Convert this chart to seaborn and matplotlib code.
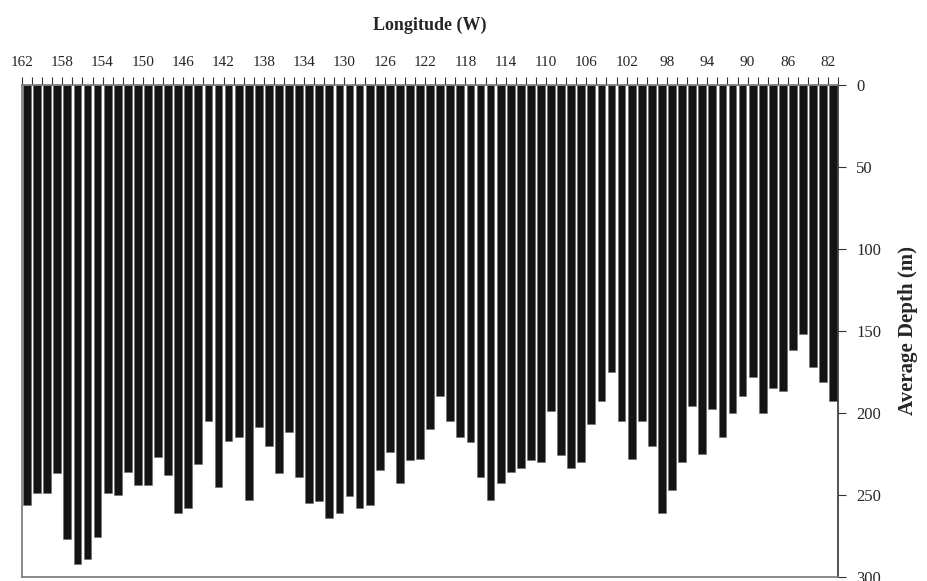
import pandas as pd
import matplotlib
matplotlib.use('Agg')
import matplotlib.pyplot as plt
import seaborn as sns

# Longitude bins (W), west to east
longitude = list(range(162, 81, -1))

# Average depth (m) per longitude bin
depth = [256, 249, 249, 237, 277, 292, 289, 276, 249, 250,
         236, 244, 244, 227, 238, 261, 258, 231, 205, 245,
         217, 215, 253, 209, 220, 237, 212, 239, 255, 254,
         264, 261, 251, 258, 256, 235, 224, 243, 229, 228,
         210, 190, 205, 215, 218, 239, 253, 243, 236, 234,
         229, 230, 199, 226, 234, 230, 207, 193, 175, 205,
         228, 205, 220, 261, 247, 230, 196, 225, 198, 215,
         200, 190, 178, 200, 185, 187, 162, 152, 172, 181,
         193]

# Labelled longitudes on the top axis
tick_labels = [str(v) for v in range(162, 81, -4)]
depth_ticks = [0, 50, 100, 150, 200, 250, 300]

df = pd.DataFrame({'Longitude': [str(v) for v in longitude], 'Depth': depth})

sns.set_style('ticks')
plt.rcParams['font.family'] = ['Liberation Serif', 'DejaVu Serif']

fig = plt.figure(figsize=(9.27, 5.81), dpi=100)
ax = fig.add_axes([0.0237, 0.0074, 0.9043 - 0.0237, 0.8468])

sns.barplot(data=df, x='Longitude', y='Depth', order=df['Longitude'],
            color='#141414', saturation=1, width=0.77,
            edgecolor='#6a6a6a', linewidth=0.4, ax=ax)

# Depth increases downward, axis on the right
ax.set_ylim(300, 0)
ax.set_xlim(-0.5, len(longitude) - 0.5)
ax.yaxis.tick_right()
ax.yaxis.set_label_position('right')
ax.set_yticks(depth_ticks)
ax.set_yticklabels([str(v) for v in depth_ticks], fontsize=12)

# Longitude axis on top, ticks on bin edges
ax.xaxis.tick_top()
ax.xaxis.set_label_position('top')
ax.set_xticks([-0.5 + 4 * k for k in range(len(tick_labels))])
ax.set_xticklabels(tick_labels, fontsize=11)
ax.set_xticks([-0.5 + k for k in range(len(longitude) + 1)], minor=True)

ax.tick_params(axis='x', which='both', direction='out', length=6, width=0.8,
               color='#333333', pad=5)
ax.tick_params(axis='y', which='major', direction='out', length=6, width=0.8,
               color='#333333', pad=7)

ax.set_xlabel('Longitude (W)', fontsize=13, fontweight='bold', labelpad=19)
ax.set_ylabel('Average Depth (m)', fontsize=15, fontweight='bold', labelpad=12)

for side in ['left', 'bottom', 'top']:
    ax.spines[side].set_color('#777777')
    ax.spines[side].set_linewidth(1.2)
ax.spines['right'].set_color('#333333')
ax.spines['right'].set_linewidth(1.2)

fig.savefig('out.png', dpi=100)
